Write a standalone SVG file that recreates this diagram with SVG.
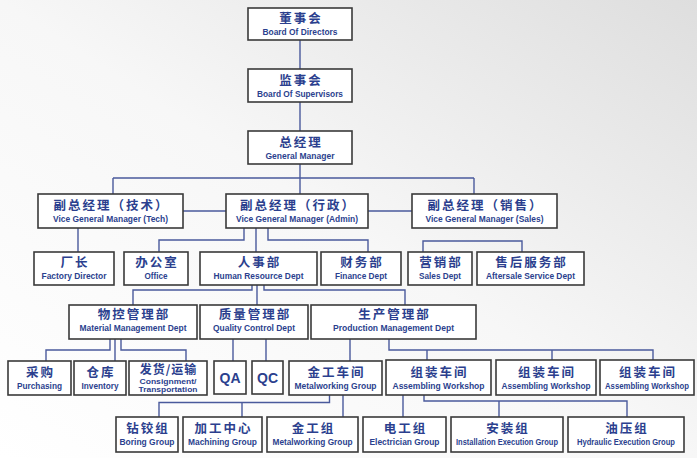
<svg xmlns="http://www.w3.org/2000/svg" width="697" height="458" viewBox="0 0 697 458">
<style>
.box{fill:#fff;stroke:#3a3a3a;stroke-width:1.6}
.cn{font-family:"Noto Sans CJK SC",sans-serif;font-weight:700;font-size:12.5px;fill:#2b3f8e;text-anchor:middle;letter-spacing:2px}
.en{font-family:"Liberation Sans",sans-serif;font-weight:700;font-size:9.5px;fill:#2b3f8e;text-anchor:middle}
.sm{font-size:7.5px}
.nr{font-size:8.5px}
.big{font-family:"Liberation Sans",sans-serif;font-weight:700;font-size:14px;fill:#2b3f8e;text-anchor:middle}
.wire{fill:none;stroke:#4a5a9c;stroke-width:1.4}
</style>
<defs>
<linearGradient id="bg" x1="0" y1="1" x2="1" y2="0">
<stop offset="0" stop-color="#ffffff"/>
<stop offset="0.5" stop-color="#f7f7f7"/>
<stop offset="1" stop-color="#dedede"/>
</linearGradient>
</defs>
<rect width="697" height="458" fill="url(#bg)"/>

<g id="connectors">
<path class="wire" d="M300 40V69M300 102V131M300 164V194M113 178H474M113 178V194M474 178V194"/>
<path class="wire" d="M183 211H226M368 211H412"/>
<path class="wire" d="M78 228V252M244 228V240H159V252M256 228V252M268 228V240H368V252M423 252V241H522V252"/>
<path class="wire" d="M252 285V290H133V305M257 285V305M264 285V290H405V305"/>
<path class="wire" d="M110 339V350H46V361M115 339V361M121 339V350H186V361M233 339V361M266 339V361"/>
<path class="wire" d="M350 339V361M389 339V350H653V361M427 350V361M552 350V361"/>
<path class="wire" d="M329.5 395V402.5H159V417M242 402.5V417M343 395V417"/>
<path class="wire" d="M403 395V417M424 395V401H627V417M499 401V417"/>
</g>

<g id="n_bod"><rect class="box" x="248" y="8" width="104" height="32"/><text class="cn" x="301" y="23">董事会</text><text class="en" x="300" y="35" textLength="75" lengthAdjust="spacingAndGlyphs">Board Of Directors</text></g>
<g id="n_bos"><rect class="box" x="248" y="69" width="104" height="33"/><text class="cn" x="301" y="85">监事会</text><text class="en" x="300" y="97" textLength="86" lengthAdjust="spacingAndGlyphs">Board Of Supervisors</text></g>
<g id="n_gm"><rect class="box" x="248" y="131" width="104" height="33"/><text class="cn" x="301" y="147">总经理</text><text class="en" x="300" y="159" textLength="69" lengthAdjust="spacingAndGlyphs">General Manager</text></g>

<g id="n_vtech"><rect class="box" x="38" y="194" width="145" height="34"/><text class="cn" x="111.5" y="210">副总经理（技术）</text><text class="en" x="110.5" y="222" textLength="115" lengthAdjust="spacingAndGlyphs">Vice General Manager (Tech)</text></g>
<g id="n_vadmin"><rect class="box" x="226" y="194" width="142" height="34"/><text class="cn" x="298" y="210">副总经理（行政）</text><text class="en" x="297" y="222" textLength="122" lengthAdjust="spacingAndGlyphs">Vice General Manager (Admin)</text></g>
<g id="n_vsales"><rect class="box" x="412" y="194" width="145" height="34"/><text class="cn" x="485.5" y="210">副总经理（销售）</text><text class="en" x="484.5" y="222" textLength="118" lengthAdjust="spacingAndGlyphs">Vice General Manager (Sales)</text></g>

<g id="n_factory"><rect class="box" x="34" y="252" width="80" height="33"/><text class="cn" x="75" y="267">厂长</text><text class="en" x="74" y="279" textLength="65" lengthAdjust="spacingAndGlyphs">Factory Director</text></g>
<g id="n_office"><rect class="box" x="124" y="252" width="64" height="33"/><text class="cn" x="157" y="267">办公室</text><text class="en" x="156" y="279" textLength="23" lengthAdjust="spacingAndGlyphs">Office</text></g>
<g id="n_hr"><rect class="box" x="200" y="252" width="117" height="33"/><text class="cn" x="259.5" y="267">人事部</text><text class="en" x="258.5" y="279" textLength="90" lengthAdjust="spacingAndGlyphs">Human Resource Dept</text></g>
<g id="n_finance"><rect class="box" x="321" y="252" width="80" height="33"/><text class="cn" x="362" y="267">财务部</text><text class="en" x="361" y="279" textLength="52" lengthAdjust="spacingAndGlyphs">Finance Dept</text></g>
<g id="n_salesdept"><rect class="box" x="408" y="252" width="64" height="33"/><text class="cn" x="441" y="267">营销部</text><text class="en" x="440" y="279" textLength="42" lengthAdjust="spacingAndGlyphs">Sales Dept</text></g>
<g id="n_aftersale"><rect class="box" x="477" y="252" width="107" height="33"/><text class="cn" x="531.5" y="267">售后服务部</text><text class="en" x="530.5" y="279" textLength="89" lengthAdjust="spacingAndGlyphs">Aftersale Service Dept</text></g>

<g id="n_material"><rect class="box" x="69" y="305" width="128" height="34"/><text class="cn" x="134" y="319">物控管理部</text><text class="en" x="133" y="331" textLength="107" lengthAdjust="spacingAndGlyphs">Material Management Dept</text></g>
<g id="n_quality"><rect class="box" x="200" y="305" width="108" height="34"/><text class="cn" x="255" y="318.5">质量管理部</text><text class="en" x="254" y="330.5" textLength="82" lengthAdjust="spacingAndGlyphs">Quality Control Dept</text></g>
<g id="n_production"><rect class="box" x="311" y="305" width="165" height="34"/><text class="cn" x="394.5" y="318.5">生产管理部</text><text class="en" x="393.5" y="330.5" textLength="121" lengthAdjust="spacingAndGlyphs">Production Management Dept</text></g>

<g id="n_purchasing"><rect class="box" x="8" y="361" width="63" height="34"/><text class="cn" x="40.5" y="377">采购</text><text class="en" x="39.5" y="389" textLength="45" lengthAdjust="spacingAndGlyphs">Purchasing</text></g>
<g id="n_inventory"><rect class="box" x="74" y="361" width="52" height="34"/><text class="cn" x="101" y="377">仓库</text><text class="en" x="100" y="389" textLength="37" lengthAdjust="spacingAndGlyphs">Inventory</text></g>
<g id="n_consign"><rect class="box" x="129" y="361" width="78" height="34"/><text class="cn" x="168.5" y="374" style="letter-spacing:1px;font-size:12px">发货/运输</text><text class="en sm" x="168" y="383.5" textLength="57" lengthAdjust="spacingAndGlyphs">Consignment/</text><text class="en sm" x="168" y="391.5" textLength="59" lengthAdjust="spacingAndGlyphs">Transportation</text></g>
<g id="n_qa"><rect class="box" x="214" y="361" width="32" height="33"/><text class="big" x="230" y="383">QA</text></g>
<g id="n_qc"><rect class="box" x="252" y="361" width="31" height="33"/><text class="big" x="267.5" y="383">QC</text></g>
<g id="n_metalws"><rect class="box" x="289" y="361" width="93" height="34"/><text class="cn" x="336.5" y="377">金工车间</text><text class="en" x="335.5" y="389" textLength="82" lengthAdjust="spacingAndGlyphs">Metalworking Group</text></g>
<g id="n_asm1"><rect class="box" x="386" y="360" width="105" height="35"/><text class="cn" x="439.5" y="377">组装车间</text><text class="en" x="438.5" y="389" textLength="92" lengthAdjust="spacingAndGlyphs">Assembling Workshop</text></g>
<g id="n_asm2"><rect class="box" x="496" y="360" width="100" height="35"/><text class="cn" x="547" y="377">组装车间</text><text class="en" x="546" y="389" textLength="89" lengthAdjust="spacingAndGlyphs">Assembling Workshop</text></g>
<g id="n_asm3"><rect class="box" x="600" y="360" width="94" height="35"/><text class="cn" x="648" y="377">组装车间</text><text class="en nr" x="647" y="389" textLength="84" lengthAdjust="spacingAndGlyphs">Assembling Workshop</text></g>

<g id="n_boring"><rect class="box" x="116" y="417" width="62" height="35"/><text class="cn" x="148" y="433">钻铰组</text><text class="en" x="147" y="445" textLength="55" lengthAdjust="spacingAndGlyphs">Boring Group</text></g>
<g id="n_machining"><rect class="box" x="183" y="417" width="79" height="35"/><text class="cn" x="223.5" y="433">加工中心</text><text class="en" x="222.5" y="445" textLength="69" lengthAdjust="spacingAndGlyphs">Machining Group</text></g>
<g id="n_metalgrp"><rect class="box" x="267" y="417" width="91" height="35"/><text class="cn" x="313.5" y="433">金工组</text><text class="en" x="312.5" y="445" textLength="80" lengthAdjust="spacingAndGlyphs">Metalworking Group</text></g>
<g id="n_electric"><rect class="box" x="363" y="417" width="83" height="35"/><text class="cn" x="405.5" y="433">电工组</text><text class="en" x="404.5" y="445" textLength="70" lengthAdjust="spacingAndGlyphs">Electrician Group</text></g>
<g id="n_install"><rect class="box" x="451" y="417" width="112" height="35"/><text class="cn" x="508" y="433">安装组</text><text class="en" x="507" y="445" textLength="102" lengthAdjust="spacingAndGlyphs">Installation Execution Group</text></g>
<g id="n_hydraulic"><rect class="box" x="568" y="417" width="116" height="35"/><text class="cn" x="627" y="433">油压组</text><text class="en nr" x="626" y="445" textLength="98" lengthAdjust="spacingAndGlyphs">Hydraulic Execution Group</text></g>
</svg>
